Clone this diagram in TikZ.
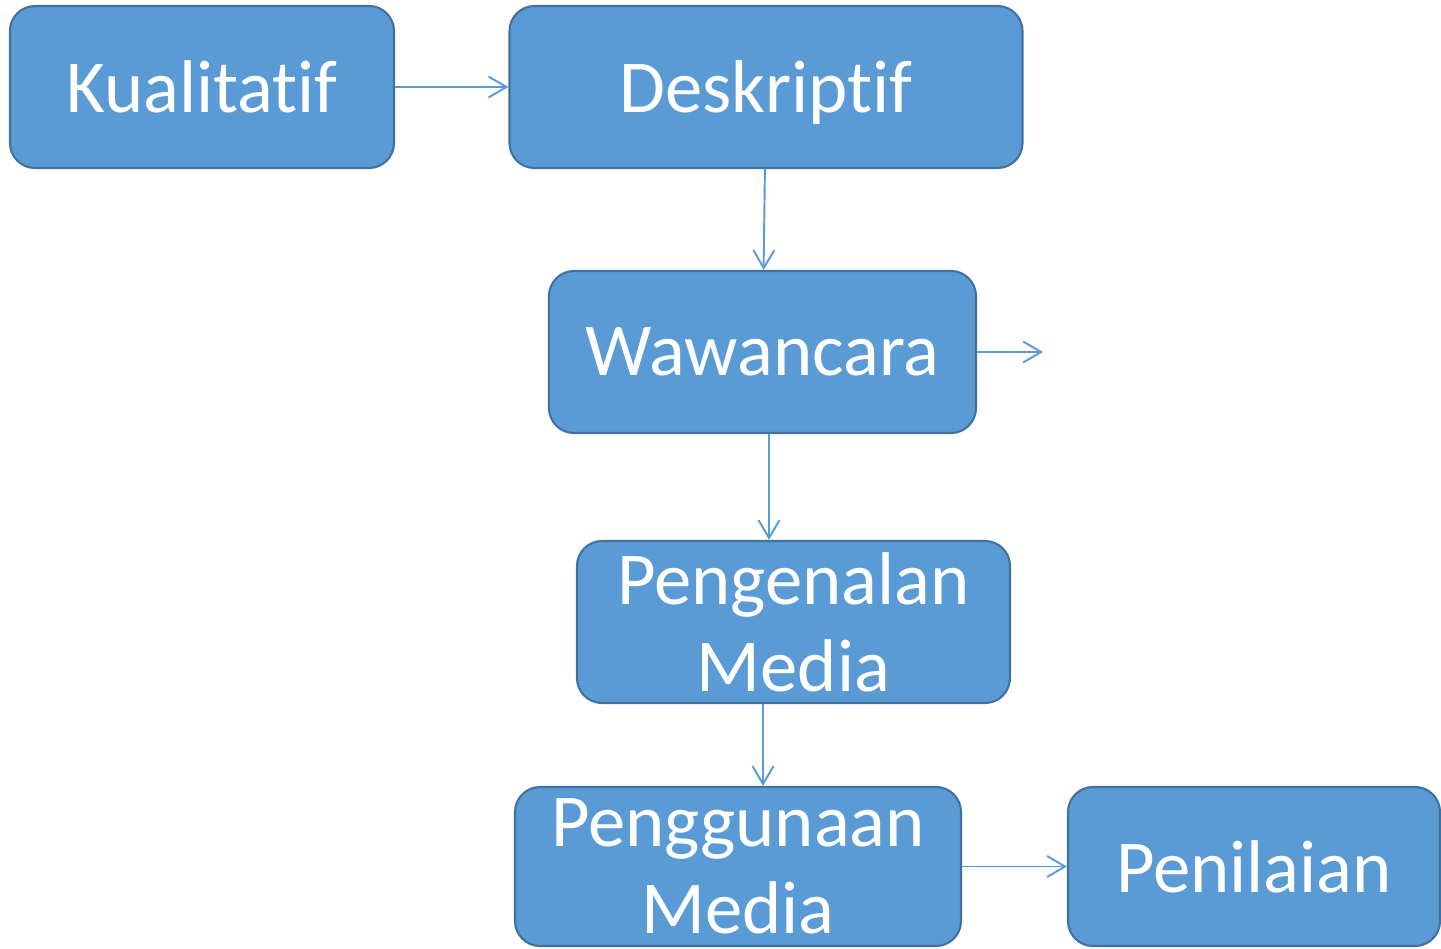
\documentclass[tikz,border=0pt]{standalone}
\usepackage{fontspec}
\setmainfont{Carlito}[Ligatures=NoCommon]
\usetikzlibrary{arrows.meta, positioning}
\definecolor{boxblue}{HTML}{5B9BD5}
\definecolor{boxedge}{HTML}{41719C}

\begin{document}
\begin{tikzpicture}[
        block/.style={draw=boxedge, line width=1.2pt, fill=boxblue, rounded corners=0.5cm, text=white, align=center, inner sep=0pt, minimum height=3.24cm, font=\fontsize{42.5}{49.5}\selectfont},
        arrow/.style={-{Straight Barb[length=0.36cm, width=0.42cm]}, draw=boxblue, line width=1.1pt}
    ]
        \useasboundingbox (0,0) rectangle (28.82,-18.96);

        % Top row
        \node[block, minimum width=7.68cm] (kual) at (4.04,-1.74) {Kualitatif};
        \node[block, minimum width=10.26cm, text depth=0pt] (desk) at (15.32,-1.74) {Deskriptif};

        % Middle
        \node[block, minimum width=8.54cm] (waw) at (15.25,-7.04) {Wawancara};
        \coordinate (wawout) at (20.86,-7.04);
        \node[block, minimum width=8.66cm] (kenal) at (15.87,-12.44) {Pengenalan\\Media};

        % Bottom row
        \node[block, minimum width=8.92cm, minimum height=3.18cm] (guna) at (14.76,-17.33) {Penggunaan\\Media};
        \node[block, minimum width=7.44cm, minimum height=3.18cm] (nilai) at (25.08,-17.33) {Penilaian};

        % Arrows
        \draw[arrow] (kual) -- (desk);
        \draw[arrow] (desk) -- (waw);
        \draw[arrow] (waw) -- (wawout);
        \draw[arrow] ([xshift=0.13cm]waw.south) -- ([xshift=0.13cm]waw.south |- kenal.north);
        \draw[arrow] ([xshift=-0.61cm]kenal.south) -- ([xshift=-0.61cm]kenal.south |- guna.north);
        \draw[arrow] (guna) -- (nilai);
    \end{tikzpicture}
\end{document}
